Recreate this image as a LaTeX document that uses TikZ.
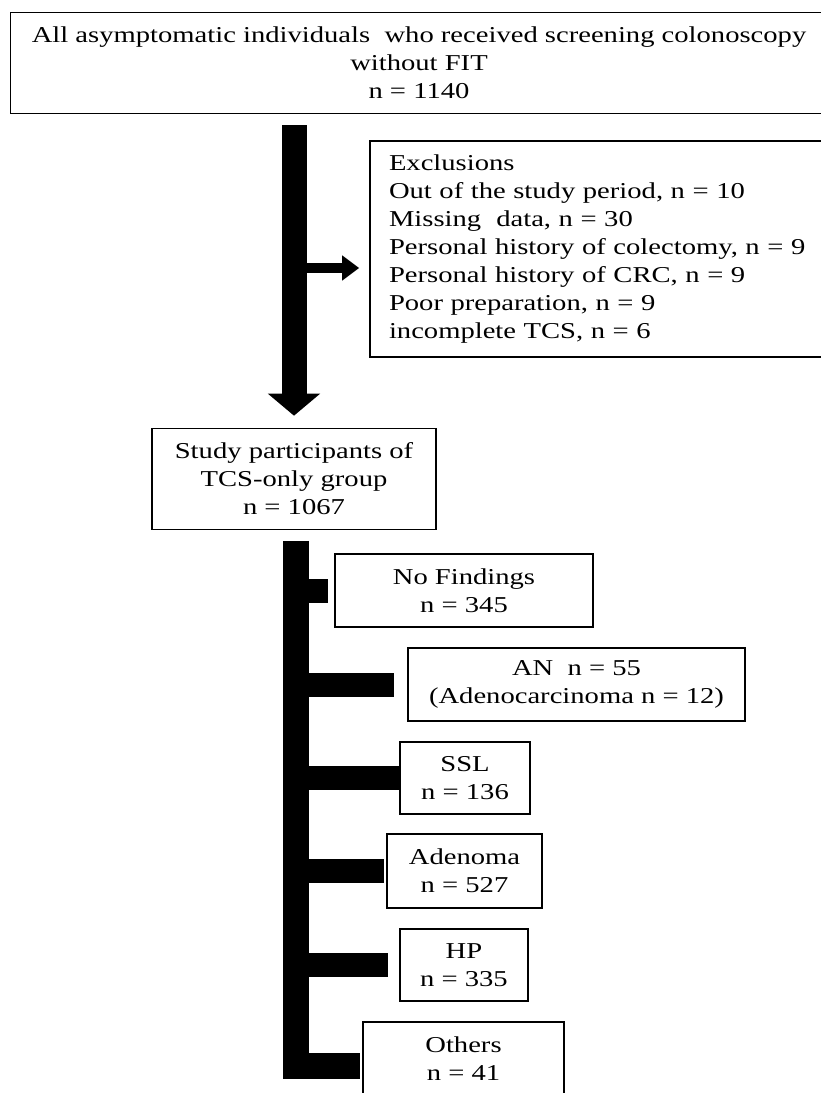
\documentclass[tikz,border=0pt]{standalone}
\usepackage{fontspec}
\setmainfont{Liberation Serif}[FakeStretch=1.26]
\usepackage{tikz}
\usetikzlibrary{positioning, arrows.meta}

\tikzset{
  box/.style={draw, line width=1.6pt, align=center, inner sep=0pt,
    font=\fontsize{22.7}{28}\selectfont},
  bar/.style={line width=25pt},
  stub/.style={line width=24pt},
}

\begin{document}
\begin{tikzpicture}[x=1pt, y=-1pt]
\useasboundingbox (0,0) rectangle (821,1093);
\clip (0,0) rectangle (821,1093);

% Top box and exclusions
\node[box, minimum width=817pt, minimum height=101pt] (all) at (419,63)
  {All asymptomatic individuals\ \ who received screening colonoscopy\\ without FIT\\ n = 1140};
\node[box, minimum height=216pt, text width=432pt, align=left, inner xsep=19pt] (excl) at (605,249)
  {Exclusions\\
   Out of the study period, n = 10\\
   Missing\ \ data, n = 30\\
   Personal history of colectomy, n = 9\\
   Personal history of CRC, n = 9\\
   Poor preparation, n = 9\\
   incomplete TCS, n = 6};

% Study group
\node[box, minimum width=284pt, minimum height=101pt] (study) at (294,479)
  {Study participants of\\ TCS-only group\\ n = 1067};

% Findings
\node[box, minimum width=258pt, minimum height=73pt] (nf) at (464,590.5) {No Findings\\ n = 345};
\node[box, minimum width=337pt, minimum height=73pt] (an) at (576.5,684.5) {AN\ \ n = 55\\ (Adenocarcinoma n = 12)};
\node[box, minimum width=130pt, minimum height=72pt] (ssl) at (465,778) {SSL\\ n = 136};
\node[box, minimum width=155pt, minimum height=74pt] (ade) at (464.5,871) {Adenoma\\ n = 527};
\node[box, minimum width=128pt, minimum height=72pt] (hp) at (464,965) {HP\\ n = 335};
\node[box, minimum width=201pt, minimum height=73pt] (oth) at (463.5,1058.5) {Others\\ n = 41};

% Main arrow and exclusion arrow
\draw[bar, -{Triangle[width=51pt, length=22pt]}, shorten <=11pt, shorten >=12pt]
  (all.south -| study.north) -- (study.north);
\coordinate (exin) at ([xshift=-10pt, yshift=-19pt]excl.west);
\draw[line width=10pt, -{Triangle[width=24pt, length=17pt]}] (exin -| study.north) -- (exin);

% Trunk to findings
\coordinate (trunk) at ([xshift=2pt, yshift=-10.5pt]study.south);
\coordinate (othin) at ([xshift=-2pt, yshift=-7.5pt]oth.west);
\draw[bar, line width=26pt, line join=miter] (trunk) -- (trunk |- othin) -- (othin);
\draw[stub] (trunk |- nf.west) -- ([xshift=-6pt]nf.west);
\draw[stub] (trunk |- an.west) -- ([xshift=-13pt]an.west);
\draw[stub] (trunk |- ssl.west) -- (ssl.west);
\draw[stub] (trunk |- ade.west) -- ([xshift=-2pt]ade.west);
\draw[stub] (trunk |- hp.west) -- ([xshift=-11pt]hp.west);

\end{tikzpicture}
\end{document}
